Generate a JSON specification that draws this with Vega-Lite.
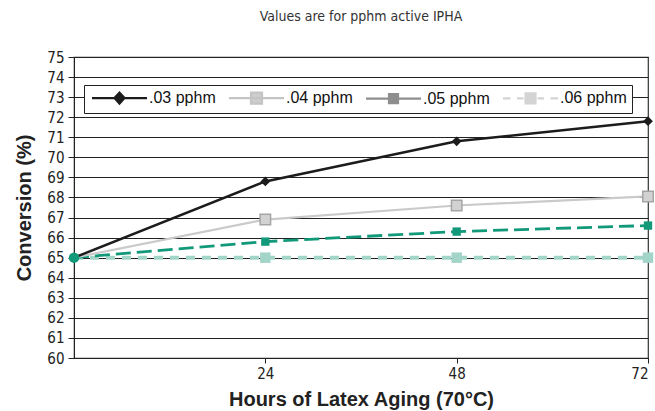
{
  "$schema": "https://vega.github.io/schema/vega-lite/v6.json",
  "width": 574,
  "height": 301,
  "autosize": {"type": "none"},
  "padding": {"left": 74, "top": 57, "right": 7, "bottom": 53},
  "background": "white",
  "title": {
    "text": "Values are for pphm active IPHA",
    "fontSize": 14,
    "font": "DejaVu Sans Condensed, sans-serif",
    "fontWeight": "normal",
    "color": "#333333",
    "offset": 26,
    "anchor": "middle",
    "frame": "group"
  },
  "config": {
    "view": {"stroke": "#333333", "strokeWidth": 1.2},
    "legend": {
      "orient": "none",
      "legendX": 10,
      "legendY": 28,
      "direction": "horizontal",
      "strokeColor": "#222222",
      "fillColor": "white",
      "padding": 5,
      "labelFont": "Liberation Sans, Arial, sans-serif",
      "labelFontSize": 16,
      "labelColor": "#111111",
      "symbolSize": 100,
      "symbolStrokeWidth": 2.2,
      "labelOffset": 44,
      "columnPadding": 8,
      "title": null
    }
  },
  "data": {
    "values": [
      {"series": ".03 pphm", "hours": 0, "conversion": 65},
      {"series": ".03 pphm", "hours": 24, "conversion": 68.8},
      {"series": ".03 pphm", "hours": 48, "conversion": 70.8},
      {"series": ".03 pphm", "hours": 72, "conversion": 71.8},
      {"series": ".04 pphm", "hours": 0, "conversion": 65},
      {"series": ".04 pphm", "hours": 24, "conversion": 66.9},
      {"series": ".04 pphm", "hours": 48, "conversion": 67.6},
      {"series": ".04 pphm", "hours": 72, "conversion": 68.05},
      {"series": ".05 pphm", "hours": 0, "conversion": 65},
      {"series": ".05 pphm", "hours": 24, "conversion": 65.8},
      {"series": ".05 pphm", "hours": 48, "conversion": 66.3},
      {"series": ".05 pphm", "hours": 72, "conversion": 66.6},
      {"series": ".06 pphm", "hours": 0, "conversion": 65},
      {"series": ".06 pphm", "hours": 24, "conversion": 65},
      {"series": ".06 pphm", "hours": 48, "conversion": 65},
      {"series": ".06 pphm", "hours": 72, "conversion": 65}
    ]
  },
  "encoding": {
    "x": {
      "field": "hours",
      "type": "quantitative",
      "scale": {"domain": [0, 72], "nice": false, "zero": false},
      "axis": {
        "values": [24, 48, 72],
        "grid": false,
        "tickSize": 5,
        "tickColor": "#222222",
        "domainColor": "#222222",
        "labelFont": "DejaVu Sans Condensed, sans-serif",
        "labelFontSize": 15,
        "labelColor": "#222222",
        "labelPadding": 3,
        "title": "Hours of Latex Aging (70°C)",
        "titleFont": "Liberation Sans, Arial, sans-serif",
        "titleFontSize": 20,
        "titleFontWeight": "bold",
        "titleColor": "#222222",
        "titlePadding": 8
      }
    },
    "y": {
      "field": "conversion",
      "type": "quantitative",
      "scale": {"domain": [60, 75], "nice": false, "zero": false},
      "axis": {
        "values": [60, 61, 62, 63, 64, 65, 66, 67, 68, 69, 70, 71, 72, 73, 74, 75],
        "grid": true,
        "gridColor": "#222222",
        "gridWidth": 1,
        "tickSize": 6,
        "tickColor": "#222222",
        "domainColor": "#222222",
        "labelFont": "DejaVu Sans Condensed, sans-serif",
        "labelFontSize": 15,
        "labelColor": "#222222",
        "labelPadding": 4,
        "title": "Conversion (%)",
        "titleFont": "Liberation Sans, Arial, sans-serif",
        "titleFontSize": 20,
        "titleFontWeight": "bold",
        "titleColor": "#222222",
        "titlePadding": 12
      }
    }
  },
  "layer": [
    {
      "transform": [{"filter": "datum.series === '.06 pphm'"}],
      "mark": {"type": "line", "color": "#a2d5c7", "strokeWidth": 4, "strokeDash": [9, 7]}
    },
    {
      "transform": [{"filter": "datum.series === '.05 pphm'"}],
      "mark": {"type": "line", "color": "#11997a", "strokeWidth": 2.8, "strokeDash": [15, 6]}
    },
    {
      "transform": [{"filter": "datum.series === '.04 pphm'"}],
      "mark": {"type": "line", "color": "#cacaca", "strokeWidth": 2.2}
    },
    {
      "transform": [{"filter": "datum.series === '.03 pphm'"}],
      "mark": {"type": "line", "color": "#1c1c1c", "strokeWidth": 2.5}
    },
    {
      "transform": [{"filter": "datum.series === '.06 pphm' && datum.hours > 0"}],
      "mark": {"type": "point", "shape": "square", "filled": true, "color": "#a2d5c7", "size": 110, "opacity": 1}
    },
    {
      "transform": [{"filter": "datum.series === '.05 pphm' && datum.hours > 0"}],
      "mark": {"type": "point", "shape": "square", "filled": true, "color": "#11997a", "size": 70, "opacity": 1}
    },
    {
      "transform": [{"filter": "datum.series === '.04 pphm' && datum.hours > 0"}],
      "mark": {"type": "point", "shape": "square", "filled": true, "fill": "#d2d2d2", "stroke": "#a5a5a5", "strokeWidth": 1.5, "size": 110, "opacity": 1}
    },
    {
      "transform": [{"filter": "datum.series === '.03 pphm' && datum.hours > 0"}],
      "mark": {"type": "point", "shape": "diamond", "filled": true, "color": "#1c1c1c", "size": 95, "opacity": 1}
    },
    {
      "transform": [{"filter": "datum.series === '.05 pphm' && datum.hours === 0"}],
      "mark": {"type": "circle", "color": "#11997a", "size": 110, "opacity": 1}
    },
    {
      "transform": [{"filter": "datum.hours < 0"}],
      "mark": {"type": "point", "filled": true, "opacity": 1, "strokeWidth": 2.2},
      "encoding": {
        "fill": {
          "field": "series",
          "type": "nominal",
          "scale": {"domain": [".03 pphm", ".04 pphm", ".05 pphm", ".06 pphm"], "range": ["#1c1c1c", "#cdcdcd", "#8e8e8e", "#d4d4d4"]},
          "legend": {"title": null}
        },
        "stroke": {
          "field": "series",
          "type": "nominal",
          "scale": {"domain": [".03 pphm", ".04 pphm", ".05 pphm", ".06 pphm"], "range": ["#1c1c1c", "#c4c4c4", "#8e8e8e", "#d4d4d4"]},
          "legend": {"title": null}
        },
        "shape": {
          "field": "series",
          "type": "nominal",
          "scale": {
            "domain": [".03 pphm", ".04 pphm", ".05 pphm", ".06 pphm"],
            "range": [
              "M-1,0H10M3.5,0L4.5,-1.1L5.5,0L4.5,1.1Z",
              "M-1,0H10M3.4,-1.1H5.6V1.1H3.4Z",
              "M-1,0H10M3.6,-0.9H5.4V0.9H3.6Z",
              "M-1,0H0.5M1.8,0H3.1M5.9,0H7.2M8.5,0H10M3.5,-1H5.5V1H3.5Z"
            ]
          },
          "legend": {"title": null}
        }
      }
    }
  ]
}
